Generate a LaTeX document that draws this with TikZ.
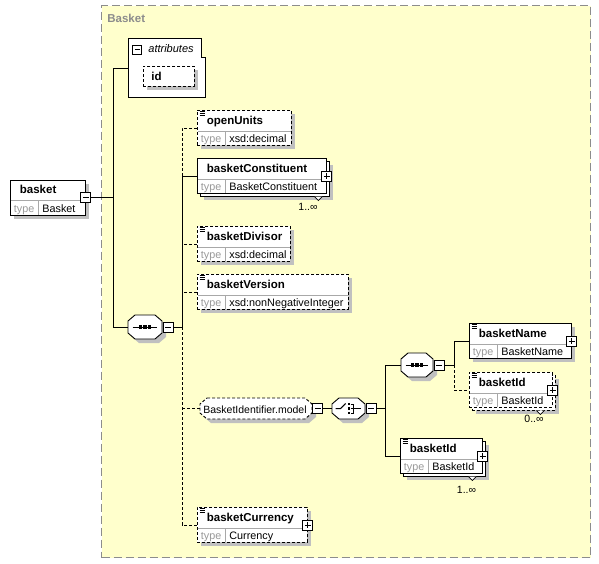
\documentclass[tikz,border=0pt]{standalone}
\usepackage{fontspec}
\setmainfont{Liberation Sans}
\usetikzlibrary{shadows}
\definecolor{bgy}{HTML}{FFFFCC}
\definecolor{shadowc}{HTML}{C0C0C0}
\definecolor{frameg}{HTML}{8C8C8C}
\definecolor{typeg}{HTML}{999999}
\definecolor{divg}{HTML}{A8A8A8}

\newcommand{\xbody}[4]{%
 \draw[divg,solid,line width=0.7pt] ([yshift=-21pt,xshift=0.5pt]#1.north west) -- ([yshift=-21pt,xshift=-0.5pt]#1.north east);
 \draw[divg,solid,line width=0.7pt] ([xshift=28pt,yshift=-21pt]#1.north west) -- ([xshift=28pt,yshift=0.5pt]#1.south west);
 \node[tlbl,typeg] (#1-tk) at ([xshift=3.5pt,yshift=3pt]#1.south west) {type};
 \node[tlbl] (#1-tv) at ([xshift=32pt,yshift=3pt]#1.south west) {#3};
 \node[lbl] (#1-nm) at ([xshift=9.5pt,yshift=-14pt]#1.north west) {#2};
 \ifnum#4=1 \foreach \d in {1.6,3.4,5.2} \draw[solid,line width=0.55pt] ([xshift=2.5pt,yshift=-\d pt]#1.north west) -- ++(5,0);\fi
}
\newcommand{\xel}[8]{%
 \node[ebox,shd,#7,minimum width=#4pt] (#1) at (#2,#3) {};
 \xbody{#1}{#5}{#6}{#8}}
\newcommand{\xels}[8]{%
 \node[ebox,shd,#7,minimum width=#4pt] (#1b) at (#2+3,#3+3) {};
 \node[ebox,#7,minimum width=#4pt] (#1) at (#2,#3) {};
 \xbody{#1}{#5}{#6}{#8}}
\newcommand{\xoct}[6]{%
 \begin{scope}[shift={(#2+4,#3+4)}]
  \fill[shadowc] (-#4/2+7,-#5/2) -- (#4/2-7,-#5/2) -- (#4/2,-#5/2+6) -- (#4/2,#5/2-6) -- (#4/2-7,#5/2) -- (-#4/2+7,#5/2) -- (-#4/2,#5/2-6) -- (-#4/2,-#5/2+6) -- cycle;
 \end{scope}
 \begin{scope}[shift={(#2,#3)}]
  \draw[fill=white,line width=0.9pt,#6] (-#4/2+7,-#5/2) -- (#4/2-7,-#5/2) -- (#4/2,-#5/2+6) -- (#4/2,#5/2-6) -- (#4/2-7,#5/2) -- (-#4/2+7,#5/2) -- (-#4/2,#5/2-6) -- (-#4/2,-#5/2+6) -- cycle;
 \end{scope}
 \node[inner sep=0,minimum width=#4pt,minimum height=#5pt] (#1) at (#2,#3) {};
}
\newcommand{\xnotch}[2]{%
 \draw[fill=white,solid,line width=0.7pt] ([xshift=-#2pt-4pt,yshift=0.4pt]#1.south east) -- ([xshift=-#2pt,yshift=-3.6pt]#1.south east) -- ([xshift=-#2pt+4pt,yshift=0.4pt]#1.south east);
}
\newcommand{\xseqicon}[1]{%
 \draw[line width=1pt] ([xshift=5pt]#1.west) -- ([xshift=-5pt]#1.east);
 \foreach \d in {-4.3,0,4.3} \fill ([xshift=\d pt-1.6pt,yshift=-1.6pt]#1.center) rectangle ++(3.2,-3.2);
}

\begin{document}
\begin{tikzpicture}[x=1pt,y=-1pt,line width=0.8pt,
 ebox/.style={draw,fill=white,inner sep=0,minimum height=35pt,anchor=north west,line width=0.9pt},
 shd/.style={general shadow={fill=shadowc,shadow xshift=4pt,shadow yshift=-4pt}},
 opt/.style={dash pattern=on 3pt off 2pt},
 lbl/.style={font=\fontsize{11.5}{13}\selectfont\bfseries,inner sep=0,anchor=base west},
 tlbl/.style={font=\fontsize{10.8}{12}\selectfont,inner sep=0,anchor=base west},
 card/.style={font=\fontsize{10.5}{12}\selectfont,inner sep=0,anchor=base},
 pm/.style={draw,fill=white,solid,minimum size=10pt,inner sep=0,line width=0.9pt},
 minus/.style={pm,path picture={\draw[line width=0.9pt] ([xshift=2pt]path picture bounding box.west) -- ([xshift=-2pt]path picture bounding box.east);}},
 plus/.style={pm,path picture={\draw[line width=0.9pt] ([xshift=2pt]path picture bounding box.west) -- ([xshift=-2pt]path picture bounding box.east); \draw[line width=0.9pt] ([yshift=-2pt]path picture bounding box.north) -- ([yshift=2pt]path picture bounding box.south);}},
]
\useasboundingbox (0,0) rectangle (599,563);
\fill[white] (0,0) rectangle (599,563);

% frame
\node[draw=frameg,fill=bgy,dash pattern=on 8pt off 4pt,line width=1.2pt,inner sep=0,minimum width=489pt,minimum height=552pt,anchor=north west] (frame) at (101,5) {};
\node[lbl,text=frameg] (frame-t) at (107,22.7) {Basket};

% trunk coordinates
\coordinate (t1) at (113,0);
\coordinate (t2) at (182,0);
\coordinate (t3) at (385,0);
\coordinate (t4) at (454,0);

% root element
\xel{basket}{10}{179.5}{75}{basket}{Basket}{solid}{0}
\node[minus] (bm) at (basket.east) {};

% attributes
\node[inner sep=0,minimum width=77pt,minimum height=59pt,anchor=north west] (attr) at (128,38) {};
\draw[fill=white,line width=0.9pt] (attr.north west) -- ([xshift=-4pt]attr.north east) -- ([xshift=-4pt,yshift=-19.5pt]attr.north east) -- ([yshift=-19.5pt]attr.north east) -- (attr.south east) -- (attr.south west) -- cycle;
\node[minus,minimum size=9pt] (am) at (137,49.5) {};
\node[font=\fontsize{11}{13}\selectfont\itshape,inner sep=0,anchor=base west] (attr-t) at (148,52.7) {attributes};
\node[draw,opt,fill=white,shd,inner sep=0,minimum width=51pt,minimum height=20pt,anchor=north west,line width=0.9pt] (idb) at (143,66) {};
\node[lbl] (id-t) at (151,80) {id};

% main sequence
\xoct{seq}{145}{327}{34}{24}{}
\xseqicon{seq}
\node[minus,anchor=west] (seqm) at ([xshift=0.5pt]seq.east) {};

% children
\xel{ou}{197}{110}{94}{openUnits}{xsd:decimal}{opt}{1}
\xels{bc}{197}{158}{129}{basketConstituent}{BasketConstituent}{solid}{0}
\node[plus] (bc-p) at (bc.east) {};
\xnotch{bcb}{11.5}
\node[card] (bc-c) at (308,210.7) {1..∞};
\xel{bd}{197}{226}{93}{basketDivisor}{xsd:decimal}{opt}{1}
\xel{bv}{197}{274}{151}{basketVersion}{xsd:nonNegativeInteger}{opt}{1}

% group
\xoct{model}{256}{408.5}{112}{21}{opt}
\node[font=\fontsize{10.5}{12}\selectfont,inner sep=0,anchor=base] (model-t) at (255,413.3) {BasketIdentifier.model};
\node[minus,anchor=west] (mm) at (model.east) {};

% choice
\xoct{ch}{348.5}{408.5}{33}{21}{}
\draw[line width=1pt] ([xshift=4pt]ch.west) -- ([xshift=9pt]ch.west) -- ([xshift=14pt,yshift=5pt]ch.west);
\foreach \d in {-4.5,0,4.5} \fill ([xshift=16pt,yshift=\d pt+1.3pt]ch.west) rectangle ++(2.8,2.6);
\draw[line width=0.9pt] ([xshift=19pt,yshift=4.5pt]ch.west) -- ([xshift=21.5pt,yshift=4.5pt]ch.west) -- ([xshift=21.5pt,yshift=-4.5pt]ch.west) -- ([xshift=19pt,yshift=-4.5pt]ch.west);
\draw[line width=1pt] ([xshift=19pt]ch.west) -- ([xshift=-4pt]ch.east);
\node[minus,anchor=west] (chm) at ([xshift=0.5pt]ch.east) {};

% inner sequence
\xoct{seq2}{417}{365}{32}{24}{}
\xseqicon{seq2}
\node[minus,anchor=west] (s2m) at ([xshift=0.5pt]seq2.east) {};

\xel{bn}{469}{323}{102}{basketName}{BasketName}{solid}{1}
\node[plus] (bn-p) at (bn.east) {};
\xels{bi1}{469}{372}{83}{basketId}{BasketId}{opt}{1}
\node[plus] (bi1-p) at (bi1.east) {};
\xnotch{bi1b}{15.5}
\node[card] (bi1-c) at (534,422.3) {0..∞};
\xels{bi2}{400}{438}{82}{basketId}{BasketId}{solid}{1}
\node[plus] (bi2-p) at (bi2.east) {};
\xnotch{bi2b}{13.5}
\node[card] (bi2-c) at (466.5,493.3) {1..∞};

\xel{cur}{197}{507}{110}{basketCurrency}{Currency}{opt}{1}
\node[plus] (cur-p) at (cur.east) {};

% connectors
\draw (bm.east) -- (bm.east -| t1);
\draw (attr.west) -- (attr.west -| t1) -- (seq.west -| t1) -- (seq.west);
\draw (seqm.east) -- (seqm.east -| t2);
\draw[opt] (ou.west) -- (ou.west -| t2) -- (bc.west -| t2);
\draw (bc.west) -- (bc.west -| t2) -- (seqm.east -| t2);
\draw[opt] (seqm.east -| t2) -- (cur.west -| t2) -- (cur.west);
\draw[opt] (bd.west) -- (bd.west -| t2);
\draw[opt] (bv.west) -- (bv.west -| t2);
\draw[opt] (model.west) -- (model.west -| t2);
\draw (mm.east) -- (ch.west);
\draw (chm.east) -- (chm.east -| t3);
\draw (seq2.west) -- (seq2.west -| t3) -- (bi2.west -| t3) -- (bi2.west);
\draw (s2m.east) -- (s2m.east -| t4);
\draw (bn.west) -- (bn.west -| t4) -- (s2m.east -| t4);
\draw[opt] (s2m.east -| t4) -- (bi1.west -| t4) -- (bi1.west);
\end{tikzpicture}
\end{document}
